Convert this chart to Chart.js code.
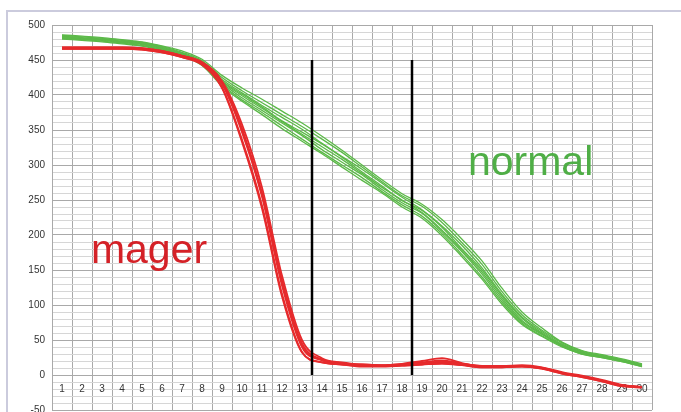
<!DOCTYPE html>
<html>
<head>
<meta charset="utf-8">
<script src="https://cdn.jsdelivr.net/npm/chart.js@4"></script>
<style>
  html, body { margin: 0; padding: 0; background: #fff; overflow: hidden; }
  #frame { position: absolute; left: 6px; top: 10px; width: 700px; height: 420px;
           border-top: 2px solid #cbcbdd; border-left: 2px solid #cbcbdd; }
  #wrap { position: absolute; left: 0; top: 0; width: 681px; height: 412px; }
</style>
</head>
<body>
<div id="frame"></div>
<div id="wrap"><canvas id="chart"></canvas></div>
<script>
// x categories (days)
const categories = Array.from({ length: 30 }, (_, i) => String(i + 1));

// green bundle ("normal")
const normal1 = [486,484,482,479,476,470,463,451,428,410,394,377,360,341,321,300,279,259,244,222,194,163,124,90,67,47,35,29,23,16];
const normal2 = [485,483,481,478,475,469,461,449,425,406,389,372,355,337,318,297,276,256,241,218,189,158,119,86,64,46,34,28,22,15];
const normal3 = [484,482,480,477,474,468,460,447,422,403,385,368,351,331,312,294,274,254,236,213,185,153,115,83,62,44,33,27,21,14];
const normal4 = [483,481,479,476,473,467,459,446,420,401,383,363,347,330,311,290,270,249,235,211,180,150,113,81,60,43,32,27,21,14];
const normal5 = [483,481,479,476,473,467,459,446,419,399,381,362,344,326,308,288,268,250,232,207,178,147,110,78,59,42,31,26,20,13];
const normal6 = [482,480,478,475,472,466,458,445,417,396,378,360,342,322,304,286,265,246,231,205,176,144,107,76,58,42,31,26,20,13];
const normal7 = [481,479,477,474,471,465,457,443,415,393,375,356,337,318,300,282,262,243,227,202,172,140,104,74,56,41,30,25,19,12];
const normal8 = [480,478,476,473,470,464,456,442,413,391,372,352,334,316,297,278,260,240,224,199,169,137,101,72,55,40,30,25,19,12];

// red bundle ("mager")
const mager1 = [468,468,468,468,467,463,456,447,420,358,268,142,50,24,18,15,14,15,17,19,16,13,13,14,11,4,-1,-7,-14,-17];
const mager2 = [467,467,467,467,466,462,455,445,416,347,255,128,40,21,16,14,13,14,16,18,15,12,12,13,10,3,-2,-8,-15,-17];
const mager3 = [466,466,466,466,465,461,454,444,411,336,242,116,33,18,15,12,12,13,15,17,14,11,11,12,9,2,-3,-9,-16,-18];
const mager4 = [467,467,467,467,466,462,456,446,417,350,258,132,42,22,17,15,14,16,20,24,17,12,13,13,10,3,-2,-8,-15,-17];
const mager5 = [466,466,466,466,465,461,454,443,410,333,238,112,32,18,15,13,13,14,15,16,14,11,11,12,9,2,-3,-9,-16,-17];
const mager6 = [468,468,468,468,467,463,456,446,418,352,260,135,45,22,16,14,13,15,18,21,16,13,12,13,10,3,-2,-8,-15,-17];

// y axis
const yMin = -50, yMax = 500, yMinor = 10, yMajor = 50;

// black marker lines (category position, top value)
const dividerAt = [13.5, 18.5];
const dividerTop = 450;

// text labels: [text, category position, value at baseline, colour]
const notes = [
  ['mager', 5.35, 160, '#d42127'],
  ['normal', 24.43, 286, '#4fae46']
];

const GREEN = '#5cb949';
const RED = '#e62a2c';

function lineSet(data, color, width) {
  return {
    data: data,
    borderColor: color,
    borderWidth: width,
    pointRadius: 0,
    fill: false,
    cubicInterpolationMode: 'monotone'
  };
}

const datasets = [
  ...[mager1, mager2, mager3, mager4, mager5, mager6].map(d => lineSet(d, RED, 1.8)),
  ...[normal1, normal2, normal3, normal4, normal5, normal6, normal7, normal8].map(d => lineSet(d, GREEN, 1.3))
];

// draws the two black lines and the text labels
const extras = {
  id: 'extras',
  afterDatasetsDraw(chart) {
    const ctx = chart.ctx;
    const x = chart.scales.x, y = chart.scales.y;
    ctx.save();
    ctx.strokeStyle = '#000';
    ctx.lineWidth = 2.5;
    dividerAt.forEach(v => {
      const px = x.getPixelForValue(v - 1);
      ctx.beginPath();
      ctx.moveTo(px, y.getPixelForValue(0));
      ctx.lineTo(px, y.getPixelForValue(dividerTop));
      ctx.stroke();
    });
    ctx.font = '41px "Liberation Sans", Arial, sans-serif';
    ctx.textAlign = 'center';
    ctx.textBaseline = 'alphabetic';
    notes.forEach(([t, cx, cy, col]) => {
      ctx.fillStyle = col;
      ctx.fillText(t, x.getPixelForValue(cx - 1), y.getPixelForValue(cy));
    });
    ctx.restore();
  }
};

new Chart(document.getElementById('chart'), {
  type: 'line',
  data: { labels: categories, datasets: datasets },
  options: {
    responsive: true,
    maintainAspectRatio: false,
    animation: false,
    layout: { padding: { left: 6, right: 29, top: 25, bottom: 2 } },
    plugins: { legend: { display: false }, tooltip: { enabled: false } },
    scales: {
      x: {
        position: { y: 0 },
        offset: true,
        grid: { color: '#a9a9a9', lineWidth: 1, drawTicks: false, offset: true },
        border: { display: false },
        ticks: {
          color: '#333',
          font: { family: '"Liberation Sans", Arial, sans-serif', size: 10 },
          padding: 8,
          autoSkip: false,
          maxRotation: 0
        }
      },
      y: {
        min: yMin,
        max: yMax,
        grid: {
          drawTicks: false,
          color: c => (c.tick && c.tick.value % yMajor === 0) ? '#a9a9a9' : '#d6d6d6',
          lineWidth: 1
        },
        border: { color: '#a9a9a9' },
        ticks: {
          stepSize: yMinor,
          autoSkip: false,
          padding: 7,
          color: '#333',
          font: { family: '"Liberation Sans", Arial, sans-serif', size: 10 },
          callback: v => (v % yMajor === 0 ? String(v) : '')
        },
        afterFit(s) {
          s.width = 46;
          s.paddingTop = 0;
          s.paddingBottom = 0;
        }
      }
    }
  },
  plugins: [extras]
});
</script>
</body>
</html>
